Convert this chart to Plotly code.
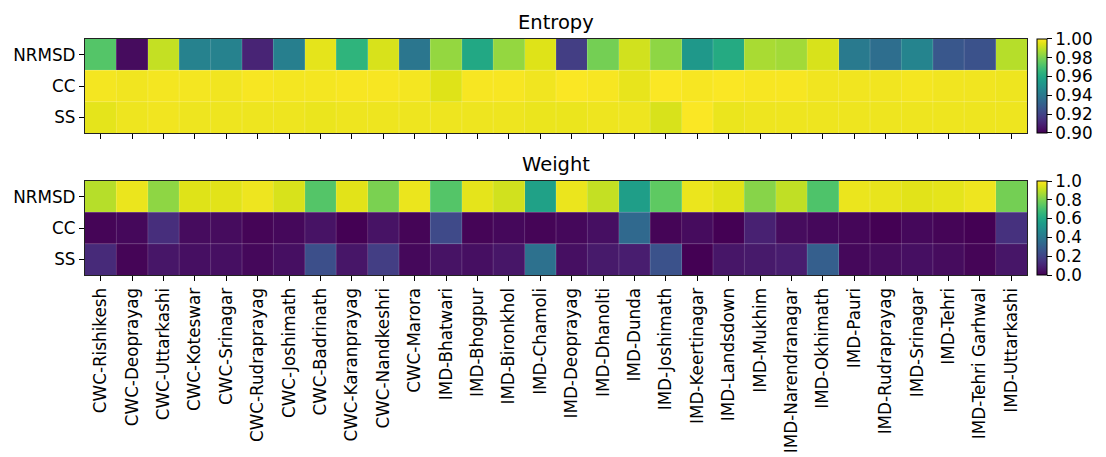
import plotly.graph_objects as go

stations = ["CWC-Rishikesh", "CWC-Deoprayag", "CWC-Uttarkashi", "CWC-Koteswar", "CWC-Srinagar",
            "CWC-Rudraprayag", "CWC-Joshimath", "CWC-Badrinath", "CWC-Karanprayag", "CWC-Nandkeshri",
            "CWC-Marora", "IMD-Bhatwari", "IMD-Bhogpur", "IMD-Bironkhol", "IMD-Chamoli",
            "IMD-Deoprayag", "IMD-Dhanolti", "IMD-Dunda", "IMD-Joshimath", "IMD-Keertinagar",
            "IMD-Landsdown", "IMD-Mukhim", "IMD-Narendranagar", "IMD-Okhimath", "IMD-Pauri",
            "IMD-Rudraprayag", "IMD-Srinagar", "IMD-Tehri", "IMD-Tehri Garhwal", "IMD-Uttarkashi"]
metrics = ["NRMSD", "CC", "SS"]

entropy_nrmsd = [0.973, 0.903, 0.991, 0.944, 0.944, 0.910, 0.943, 0.996, 0.965, 0.994,
                 0.939, 0.984, 0.960, 0.984, 0.995, 0.918, 0.979, 0.993, 0.983, 0.953,
                 0.961, 0.987, 0.986, 0.994, 0.941, 0.936, 0.945, 0.927, 0.925, 0.989]
entropy_cc = [0.9985, 0.998, 0.9985, 0.9985, 0.998, 0.999, 0.9985, 0.9985, 0.999, 0.999,
              0.9985, 0.995, 0.999, 0.999, 0.998, 0.9995, 0.999, 0.9965, 0.9995, 0.999,
              0.9995, 0.999, 0.999, 0.998, 0.998, 0.998, 0.9985, 0.998, 0.998, 0.9975]
entropy_ss = [0.996, 0.9975, 0.998, 0.9975, 0.9975, 0.9975, 0.9975, 0.997, 0.9975, 0.9975,
              0.9975, 0.9975, 0.9975, 0.9975, 0.997, 0.997, 0.9975, 0.9975, 0.994, 0.9995,
              0.997, 0.9975, 0.9975, 0.9975, 0.9975, 0.9975, 0.9975, 0.9975, 0.9975, 0.9975]

weight_nrmsd = [0.89, 0.97, 0.83, 0.95, 0.955, 0.975, 0.94, 0.73, 0.955, 0.80,
                0.97, 0.73, 0.96, 0.93, 0.57, 0.97, 0.91, 0.56, 0.75, 0.97,
                0.95, 0.82, 0.905, 0.72, 0.97, 0.965, 0.955, 0.96, 0.975, 0.79]
weight_cc = [0.01, 0.02, 0.13, 0.03, 0.03, 0.01, 0.02, 0.05, 0.00, 0.05,
             0.01, 0.22, 0.01, 0.02, 0.01, 0.02, 0.04, 0.34, 0.01, 0.03,
             0.00, 0.09, 0.03, 0.02, 0.015, 0.00, 0.02, 0.01, 0.00, 0.14]
weight_ss = [0.12, 0.01, 0.06, 0.04, 0.04, 0.02, 0.04, 0.24, 0.06, 0.18,
             0.02, 0.05, 0.04, 0.06, 0.37, 0.04, 0.07, 0.08, 0.25, 0.00,
             0.06, 0.07, 0.08, 0.30, 0.02, 0.03, 0.04, 0.03, 0.01, 0.06]

entropy_ticks = [0.90, 0.92, 0.94, 0.96, 0.98, 1.00]
weight_ticks = [0.0, 0.2, 0.4, 0.6, 0.8, 1.0]

# matplotlib viridis sampled every 0.05
VIRIDIS = ["#440154", "#471365", "#482475", "#463480", "#414487", "#3b528b", "#355f8d",
           "#2f6c8e", "#2a788e", "#25848e", "#21918c", "#1e9c89", "#22a884", "#2fb47c",
           "#44bf70", "#5ec962", "#7ad151", "#9bd93c", "#bddf26", "#dfe318", "#fde725"]
colorscale = [[i / (len(VIRIDIS) - 1), c] for i, c in enumerate(VIRIDIS)]

FONT = "DejaVu Sans"
TICK_SIZE = 16.8
TOP_DOM = [0.6017, 1.0]
BOT_DOM = [0.0, 0.3983]
NBSP = "\u00a0"


def cbar(dom, ticks, fmt):
    return dict(x=1.0103, xanchor="left", xpad=0, y=dom[0], yanchor="bottom",
                len=dom[1] - dom[0], lenmode="fraction", ypad=0,
                thickness=9.5, outlinewidth=1, outlinecolor="black",
                tickvals=ticks, tickformat=fmt, tickprefix=NBSP, ticks="outside", ticklen=5,
                tickwidth=1, tickcolor="black",
                tickfont=dict(family=FONT, size=TICK_SIZE, color="black"))


fig = go.Figure()
fig.add_trace(go.Heatmap(
    z=[entropy_nrmsd, entropy_cc, entropy_ss], x=stations, y=metrics,
    colorscale=colorscale, zmin=0.9, zmax=1.0, xaxis="x", yaxis="y",
    colorbar=cbar(TOP_DOM, entropy_ticks, ".2f"),
))
fig.add_trace(go.Heatmap(
    z=[weight_nrmsd, weight_cc, weight_ss], x=stations, y=metrics,
    colorscale=colorscale, zmin=0.0, zmax=1.0, xaxis="x2", yaxis="y2",
    colorbar=cbar(BOT_DOM, weight_ticks, ".1f"),
))

axis_common = dict(showline=True, linecolor="#222222", linewidth=1.3, mirror=True,
                   ticks="outside", ticklen=5, tickwidth=1, tickcolor="black",
                   showgrid=False, zeroline=False, automargin=False,
                   tickfont=dict(family=FONT, size=TICK_SIZE, color="black"))

# faint cell separators derived from the category counts
shapes = []
for xa, ya in (("x", "y"), ("x2", "y2")):
    for i in range(1, len(stations)):
        shapes.append(dict(type="line", xref=xa, yref=ya + " domain", x0=i - 0.5, x1=i - 0.5,
                           y0=0, y1=1, line=dict(color="rgba(255,255,255,0.22)", width=0.8),
                           layer="above"))
    for j in range(1, len(metrics)):
        shapes.append(dict(type="line", xref=xa + " domain", yref=ya, x0=0, x1=1,
                           y0=j - 0.5, y1=j - 0.5,
                           line=dict(color="rgba(255,255,255,0.3)", width=0.8),
                           layer="above"))

fig.update_layout(
    width=1106, height=457,
    margin=dict(l=85, r=79, t=39, b=182, autoexpand=False),
    paper_bgcolor="white", plot_bgcolor="white",
    font=dict(family=FONT, color="black"),
    xaxis=dict(domain=[0, 1], anchor="y", showticklabels=False, **axis_common),
    yaxis=dict(domain=TOP_DOM, anchor="x", autorange="reversed", **axis_common),
    xaxis2=dict(domain=[0, 1], anchor="y2", tickangle=-90, **axis_common),
    yaxis2=dict(domain=BOT_DOM, anchor="x2", autorange="reversed", **axis_common),
    shapes=shapes,
    annotations=[
        dict(text="Entropy", xref="paper", yref="paper", x=0.5, y=TOP_DOM[1],
             xanchor="center", yanchor="bottom", yshift=3, showarrow=False,
             font=dict(family=FONT, size=19.5, color="black")),
        dict(text="Weight", xref="paper", yref="paper", x=0.5, y=BOT_DOM[1],
             xanchor="center", yanchor="bottom", yshift=3, showarrow=False,
             font=dict(family=FONT, size=19.5, color="black")),
    ],
)

fig.write_html("out.html")
